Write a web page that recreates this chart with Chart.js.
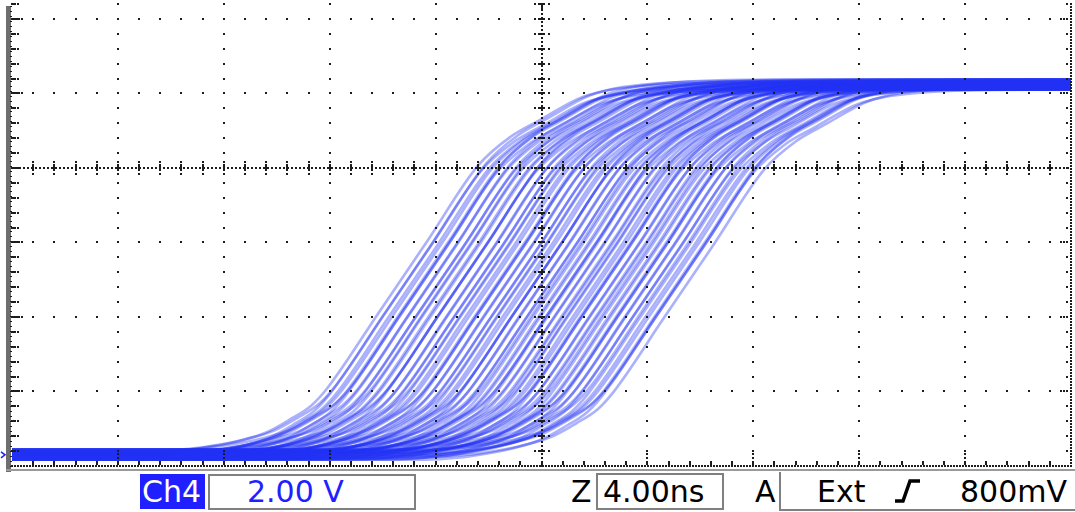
<!DOCTYPE html>
<html>
<head>
<meta charset="utf-8">
<script src="https://cdn.jsdelivr.net/npm/chart.js@4/dist/chart.umd.min.js"></script>
<style>
  html, body { margin:0; padding:0; background:#fff; }
  #wrap { position:relative; width:1075px; height:512px; overflow:hidden; background:#fff; }
  #scope { position:absolute; left:0; top:0; }
  .t { position:absolute; font-family:"DejaVu Sans", sans-serif; font-size:30px; line-height:30px; white-space:nowrap; }
  .box { position:absolute; box-sizing:border-box; }
</style>
</head>
<body>
<div id="wrap">
  <canvas id="scope" width="1075" height="472"></canvas>
  <!-- status bar -->
  <div class="box" style="left:140px;top:474px;width:65px;height:35px;background:#1f1fff;"></div>
  <div class="t" style="left:142px;top:477px;color:#fff;">Ch4</div>
  <div class="box" style="left:208px;top:474px;width:208px;height:36px;border:2px solid #808080;"></div>
  <div class="t" style="left:247px;top:477px;color:#1f1fff;">2.00 V</div>
  <div class="t" style="left:571px;top:477px;color:#000;">Z</div>
  <div class="box" style="left:596px;top:473px;width:128px;height:37px;border:2px solid #808080;"></div>
  <div class="t" style="left:603px;top:477px;color:#000;">4.00ns</div>
  <div class="t" style="left:755px;top:477px;color:#000;">A</div>
  <div class="box" style="left:779px;top:472px;width:300px;height:39px;border-left:2px solid #808080;border-bottom:2px solid #808080;"></div>
  <div class="t" style="left:817px;top:477px;color:#000;">Ext</div>
  <svg style="position:absolute;left:890px;top:476px;" width="34" height="30">
    <polyline points="5,25 13,25 20,5 30,5" fill="none" stroke="#000" stroke-width="3.5"/>
  </svg>
  <div class="t" style="left:960px;top:477px;color:#000;">800mV</div>
</div>
<script>
// ---- Display settings (oscilloscope graticule) ----
const X_MIN = -20, X_MAX = 20;        // ns, 4.00 ns/div, 10 divisions
const X_DIV = 4;
const Y_DIV = 2;                      // 2.00 V/div
const Y_MIN = -0.3;                   // bottom graticule edge (V)
const Y_MAX = 12.1;                   // top of visible screen (V)
const Y_CENTER = 7.7;                 // centre graticule line (V)

// ---- Base rising edge of the earliest trace ----
const baseTime  = [-40, -14.8, -13.6, -12.5, -11.4, -10.4, -9.5, -8.7, -8.1, -6.2, -4.3, -2.4, -1.2, 0.0, 1.4, 2.2, 3.0, 5.2, 8.2, 20];
const baseVolts = [0, 0, 0.05, 0.16, 0.32, 0.54, 0.89, 1.26, 1.72, 3.70, 5.69, 7.70, 8.46, 8.95, 9.50, 9.68, 9.78, 9.90, 9.93, 9.93];

// ---- Trigger jitter: delay of each captured edge relative to the earliest (ns) ----
const delays = [0.0, 0.1, 0.3, 0.4, 0.55, 0.7, 0.8, 0.95, 1.1, 1.2, 1.35, 1.5, 1.6, 1.75, 1.9, 2.0, 2.15, 2.3,
                2.4, 2.55, 2.7, 2.8, 2.95, 3.05, 3.2, 3.3, 3.45, 3.6, 3.7, 3.85, 3.95, 4.1, 4.2, 4.35, 4.45, 4.6,
                4.7, 4.85, 4.95, 5.1, 5.2, 5.3, 5.45, 5.55, 5.7, 5.8, 5.9, 6.05, 6.15, 6.3, 6.4, 6.5, 6.65, 6.75,
                6.9, 7.0, 7.1, 7.25, 7.35, 7.5, 7.6, 7.7, 7.85, 7.95, 8.1, 8.2, 8.3, 8.45, 8.55, 8.7, 8.8, 8.95,
                9.05, 9.2, 9.3, 9.45, 9.55, 9.7, 9.85, 9.95, 10.1, 10.25, 10.4, 10.5, 10.65, 10.8];
// ---- Vertical noise band of the traces (V) ----
const levelOffsets = [0.06, -0.09, 0.11, -0.03, 0.0, -0.13, 0.04, 0.14, -0.05, 0.08, -0.11];

const TRACE_COLOR = 'rgba(35,50,245,0.38)';

const datasets = delays.map((d, i) => ({
  data: baseTime.map((t, k) => ({ x: t + d, y: baseVolts[k] + levelOffsets[i % levelOffsets.length] })),
  borderColor: TRACE_COLOR,
  borderWidth: 2.6,
  pointRadius: 0,
  cubicInterpolationMode: 'monotone',
  fill: false
}));

const graticule = {
  id: 'graticule',
  afterDatasetsDraw(chart) {
    const { ctx, chartArea: a, scales: { x: xs, y: ys } } = chart;
    const px = v => xs.getPixelForValue(v), py = v => ys.getPixelForValue(v);
    const dot = (x, y, w = 2, h = 2) => ctx.fillRect(Math.round(x - w / 2), Math.round(y - h / 2), w, h);
    const xMinor = X_DIV / 5, yMinor = Y_DIV / 5;
    const L = px(X_MIN), R = px(X_MAX), B = py(Y_MIN), T = a.top;
    const cx = px(0), cy = py(Y_CENTER);
    ctx.save();
    ctx.fillStyle = '#1c1c1c';

    const yMinors = [];
    for (let j = 1; j < 100; j++) { const y = py(Y_MIN + j * yMinor); if (y < T) break; yMinors.push({ y, major: j % 5 === 0 }); }
    const xMinors = [];
    for (let j = 1; j < 50; j++) xMinors.push({ x: px(X_MIN + j * xMinor), major: j % 5 === 0 });

    // vertical major lines
    for (let k = -4; k <= 4; k++) {
      if (k === 0) continue;
      const x = px(k * X_DIV);
      yMinors.forEach(m => dot(x, m.y));
    }
    // horizontal major lines
    for (let k = -3; k <= 2; k++) {
      if (k === 0) continue;
      const y = py(Y_CENTER + k * Y_DIV);
      if (y < T) continue;
      xMinors.forEach(m => dot(m.x, y));
      dot(L + 4, y); dot(L + 7, y); dot(L + 10, y);
      dot(R - 4, y); dot(R - 7, y); dot(R - 10, y);
    }
    // centre horizontal: dotted line with ticks
    for (let x = L; x <= R; x += 4) dot(x, cy, 2, 2);
    xMinors.forEach(m => { dot(m.x, cy, 2, 7); dot(m.x, cy - 6); dot(m.x, cy + 6); });
    // centre vertical: dotted line with ticks
    for (let y = B; y >= T; y -= 4) dot(cx, y, 2, 2);
    yMinors.forEach(m => { dot(cx, m.y, 7, 2); dot(cx - 7, m.y); dot(cx + 7, m.y); });
    dot(cx, T + 4, 2, 6);

    // bottom border
    for (let x = L; x <= R; x += 3) dot(x, B, 2, 2);
    xMinors.forEach(m => { dot(m.x, B - 3, 2, 4); if (m.major) { dot(m.x, B - 8); dot(m.x, B - 12); } });
    // right border
    for (let y = B; y >= T; y -= 3) dot(R, y, 2, 2);
    yMinors.forEach(m => { dot(R - 4, m.y); });
    // left border: gray bar with ticks
    ctx.fillStyle = '#6e6e6e';
    ctx.fillRect(L - 6, T + 2, 5, B - T + 8);
    ctx.fillStyle = '#1c1c1c';
    yMinors.forEach(m => { dot(L, m.y, 3, 2); dot(L + 3, m.y); dot(L + 6, m.y); });
    for (let y = B; y >= T; y -= 5) dot(L - 1, y, 2, 1);

    // separator under graticule
    ctx.fillStyle = '#9a9a9a';
    ctx.fillRect(L - 6, B + 3, chart.width - L + 6, 2);

    // channel ground marker
    const gy = py(0);
    ctx.strokeStyle = '#1f1fff'; ctx.lineWidth = 1.5;
    ctx.beginPath(); ctx.moveTo(1, gy - 3); ctx.lineTo(5, gy); ctx.lineTo(1, gy + 3); ctx.stroke();
    ctx.restore();
  }
};

new Chart(document.getElementById('scope').getContext('2d'), {
  type: 'line',
  data: { datasets },
  options: {
    responsive: false,
    animation: false,
    events: [],
    layout: { padding: { left: 12, right: 4, top: 4, bottom: 6 } },
    scales: {
      x: { type: 'linear', min: X_MIN, max: X_MAX, display: false },
      y: { type: 'linear', min: Y_MIN, max: Y_MAX, display: false }
    },
    plugins: { legend: { display: false }, tooltip: { enabled: false } }
  },
  plugins: [graticule]
});
</script>
</body>
</html>
